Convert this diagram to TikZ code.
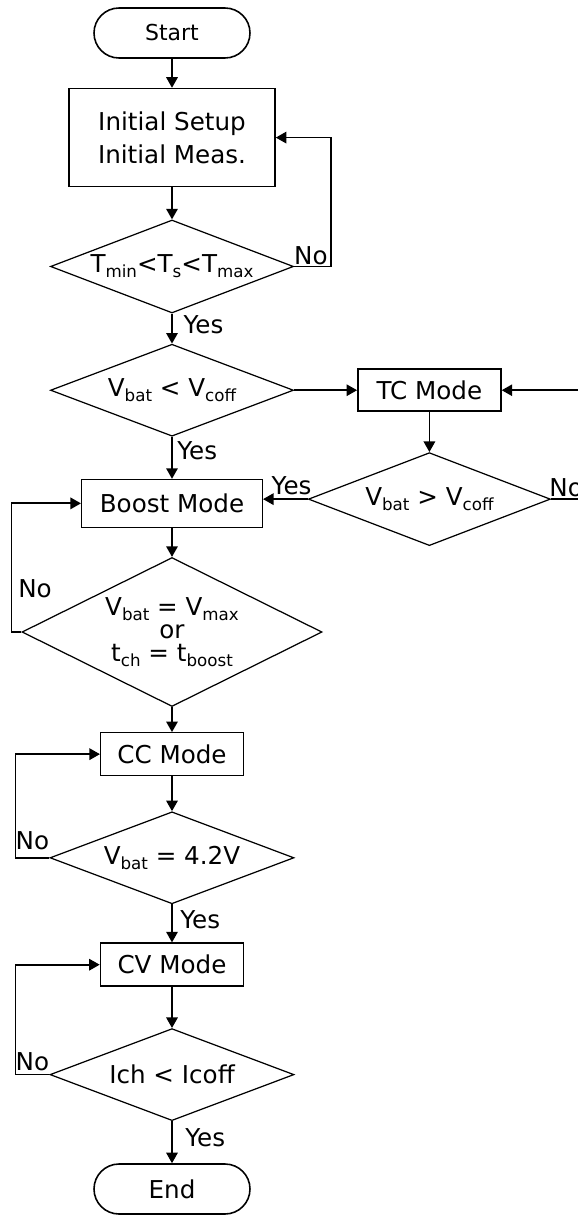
\documentclass[tikz,border=0pt]{standalone}
\usepackage{fontspec}
\setmainfont{DejaVu Sans}
\usetikzlibrary{arrows.meta,positioning,shapes.geometric}
% lowered small text for the indices
\newcommand{\sub}[1]{\raisebox{-0.37ex}{\fontsize{9.5}{9.5}\selectfont #1}}

\begin{document}
\begin{tikzpicture}[
  node distance=0.6cm,
  font=\fontsize{14}{16}\selectfont,
  term/.style={rectangle,rounded corners=0.5cm,draw,line width=0.9pt,
               minimum width=3.12cm,minimum height=1.0cm},
  blk/.style={rectangle,draw,line width=0.9pt,inner sep=2pt,
              minimum width=2.86cm,minimum height=0.86cm},
  dec/.style={diamond,draw,line width=0.7pt,inner sep=0pt,shape aspect=2.6,
              minimum width=4.86cm,minimum height=1.84cm},
  arr/.style={-{Triangle[length=6pt,width=6.5pt]},line width=1pt},
  lbl/.style={inner sep=1pt}
]
  \useasboundingbox (0,0) rectangle (11.54,-24.3);

  \node[term,font=\fontsize{12.5}{14}\selectfont] (start) at (3.44,-0.66) {Start};
  \node[blk,below=0.58cm of start,minimum width=4.12cm,minimum height=1.96cm,
        align=center,font=\fontsize{14}{19}\selectfont] (init) {Initial Setup\\Initial Meas.};
  \node[dec,below=0.64cm of init,minimum height=1.86cm] (tcheck) {T\sub{min}<T\sub{s}<T\sub{max}};
  \node[dec,below=0.6cm of tcheck] (vlow) {V\sub{bat} < V\sub{coff}};
  \node[blk,right=1.26cm of vlow,minimum height=0.84cm] (tc) {TC Mode};
  \node[dec,below=0.8cm of tc,minimum width=4.84cm,minimum height=1.86cm] (vhigh) {V\sub{bat} > V\sub{coff}};
  \node[blk,below=0.84cm of vlow,minimum width=3.62cm,minimum height=0.96cm,
        line width=0.6pt] (boost) {Boost Mode};
  \node[dec,below=0.58cm of boost,minimum width=6cm,minimum height=2.98cm,shape aspect=2,
        align=center,font=\fontsize{14}{13}\selectfont] (bdone)
        {V\sub{bat} = V\sub{max}\\or\\t\sub{ch} = t\sub{boost}};
  \node[blk,below=0.5cm of bdone,line width=0.6pt] (cc) {CC Mode};
  \node[dec,below=0.7cm of cc,minimum width=4.88cm] (vfull) {V\sub{bat} = 4.2V};
  \node[blk,below=0.76cm of vfull] (cv) {CV Mode};
  \node[dec,below=0.82cm of cv,minimum width=4.88cm] (icut) {Ich < Icoff};
  \node[term,below=0.84cm of icut] (end) {End};

  % main line
  \draw[arr] (start) -- (init);
  \draw[arr] (init) -- (tcheck);
  \draw[arr] (tcheck) -- (vlow);
  \draw[arr] (vlow) -- (boost);
  \draw[arr] (boost) -- (bdone);
  \draw[arr] (bdone) -- (cc);
  \draw[arr] (cc) -- (vfull);
  \draw[arr] (vfull) -- (cv);
  \draw[arr] (cv) -- (icut);
  \draw[arr] (icut) -- (end);

  % trickle branch
  \draw[arr] (vlow) -- (tc);
  \draw[arr] (tc) -- (vhigh);
  \draw[arr] (vhigh.west) -- (vhigh.west -| boost.east);
  \draw[arr] (vhigh.east) -- ++(1.2,0) |- (tc.east);

  % loops back
  \draw[arr] (tcheck.east) -- ++(0.74,0) |- (init.east);
  \draw[arr] (bdone.west) -- ++(-0.2,0) |- node[lbl,pos=0.17,anchor=west,xshift=0.085cm] (n4) {No} (boost.west);
  \draw[arr] (vfull.west) -- node[lbl,above,yshift=0.1cm] (n5) {No} ++(-0.68,0) |- (cc.west);
  \draw[arr] (icut.west) -- node[lbl,above,yshift=0.02cm] (n6) {No} ++(-0.68,0) |- (cv.west);

  % branch labels
  \node[lbl,anchor=south west,xshift=-0.04cm] (n1) at (tcheck.east) {No};
  \node[lbl,anchor=north west,xshift=0.19cm] (y1) at (tcheck.south) {Yes};
  \node[lbl,anchor=north west,xshift=0.065cm,yshift=-0.05cm] (y2) at (vlow.south) {Yes};
  \node[lbl,anchor=south east,xshift=0.115cm,yshift=0.045cm] (y3) at (vhigh.west) {Yes};
  \node[lbl,anchor=south west,xshift=-0.075cm] (n3) at (vhigh.east) {No};
  \node[lbl,anchor=north west,xshift=0.125cm,yshift=-0.085cm] (y5) at (vfull.south) {Yes};
  \node[lbl,anchor=north west,xshift=0.225cm,yshift=-0.105cm] (y6) at (icut.south) {Yes};
\end{tikzpicture}
\end{document}
